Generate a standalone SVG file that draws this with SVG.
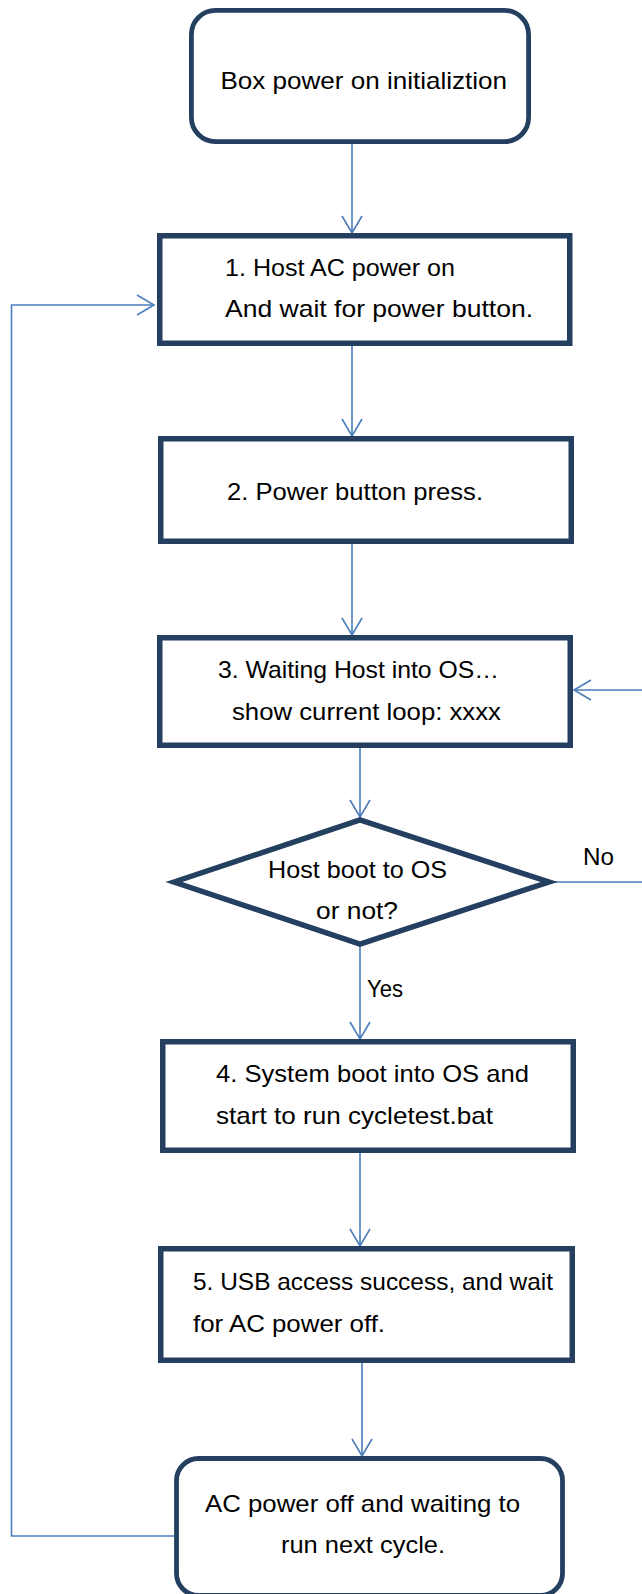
<svg xmlns="http://www.w3.org/2000/svg" width="642" height="1594" viewBox="0 0 642 1594">
  <style>
    .box { fill: #ffffff; stroke: #243F60; stroke-width: 5.5; }
    .round { fill: #ffffff; stroke: #243F60; stroke-width: 4.8; }
    .link { fill: none; stroke: #4A7EBB; stroke-width: 1.6; }
    .arrow { marker-end: url(#open-arrow); }
    text { font-family: "Liberation Sans", Arial, sans-serif; font-size: 24px; fill: #000000; }
  </style>
  <defs>
    <marker id="open-arrow" markerUnits="userSpaceOnUse" viewBox="-19 -12 21 24" refX="0" refY="0" markerWidth="21" markerHeight="24" orient="auto">
      <path d="M-17,-10 L0,0 L-17,10" fill="none" stroke="#4A7EBB" stroke-width="1.6"/>
    </marker>
  </defs>
  <rect width="642" height="1594" fill="#ffffff"/>

  <!-- connectors -->
  <g id="connectors">
    <path class="link arrow" d="M352 144 V233"/>
    <path class="link arrow" d="M352 346 V436"/>
    <path class="link arrow" d="M352 544 V635"/>
    <path class="link arrow" d="M371 746 H360 V817"/>
    <path class="link arrow" d="M360 946 V1039"/>
    <path class="link arrow" d="M350 1152 H360 V1246"/>
    <path class="link arrow" d="M374 1361 H362 V1456"/>
    <!-- "No" branch back to step 3 -->
    <path class="link arrow" d="M552 882 H650 V690 H574"/>
    <!-- loop back to step 1 -->
    <path class="link arrow" d="M174 1536 H11.5 V305 H154"/>
    <text x="583" y="865" textLength="31" lengthAdjust="spacingAndGlyphs">No</text>
    <text x="367" y="997" textLength="36" lengthAdjust="spacingAndGlyphs">Yes</text>
  </g>

  <g id="start">
    <rect class="round" x="191.4" y="10.4" width="337.2" height="131.2" rx="24" ry="24"/>
    <text x="220.5" y="89" textLength="286.5" lengthAdjust="spacingAndGlyphs">Box power on initializtion</text>
  </g>

  <g id="step1">
    <rect class="box" x="159.75" y="235.75" width="410" height="107.5"/>
    <text x="225" y="276" textLength="230" lengthAdjust="spacingAndGlyphs">1. Host AC power on</text>
    <text x="225" y="317" textLength="308" lengthAdjust="spacingAndGlyphs">And wait for power button.</text>
  </g>

  <g id="step2">
    <rect class="box" x="160.75" y="438.75" width="410.5" height="102.5"/>
    <text x="227" y="500" textLength="256" lengthAdjust="spacingAndGlyphs">2. Power button press.</text>
  </g>

  <g id="step3">
    <rect class="box" x="159.75" y="637.75" width="410.5" height="107.5"/>
    <text x="218" y="678" textLength="281" lengthAdjust="spacingAndGlyphs">3. Waiting Host into OS…</text>
    <text x="232" y="720" textLength="269" lengthAdjust="spacingAndGlyphs">show current loop: xxxx</text>
  </g>

  <g id="decision">
    <polygon class="box" points="174,882 360,820 549,882 360,944"/>
    <text x="268" y="878" textLength="179" lengthAdjust="spacingAndGlyphs">Host boot to OS</text>
    <text x="316" y="919" textLength="82" lengthAdjust="spacingAndGlyphs">or not?</text>
  </g>

  <g id="step4">
    <rect class="box" x="162.75" y="1041.75" width="410.5" height="108.5"/>
    <text x="216" y="1082" textLength="313" lengthAdjust="spacingAndGlyphs">4. System boot into OS and</text>
    <text x="216" y="1124" textLength="277" lengthAdjust="spacingAndGlyphs">start to run cycletest.bat</text>
  </g>

  <g id="step5">
    <rect class="box" x="160.75" y="1248.75" width="411.5" height="111.5"/>
    <text x="193" y="1290" textLength="360" lengthAdjust="spacingAndGlyphs">5. USB access success, and wait</text>
    <text x="193" y="1332" textLength="192" lengthAdjust="spacingAndGlyphs">for AC power off.</text>
  </g>

  <g id="end">
    <rect class="round" x="176.5" y="1458.5" width="386" height="137" rx="22" ry="22"/>
    <text x="205" y="1512" textLength="315" lengthAdjust="spacingAndGlyphs">AC power off and waiting to</text>
    <text x="281" y="1553" textLength="164" lengthAdjust="spacingAndGlyphs">run next cycle.</text>
  </g>
</svg>
